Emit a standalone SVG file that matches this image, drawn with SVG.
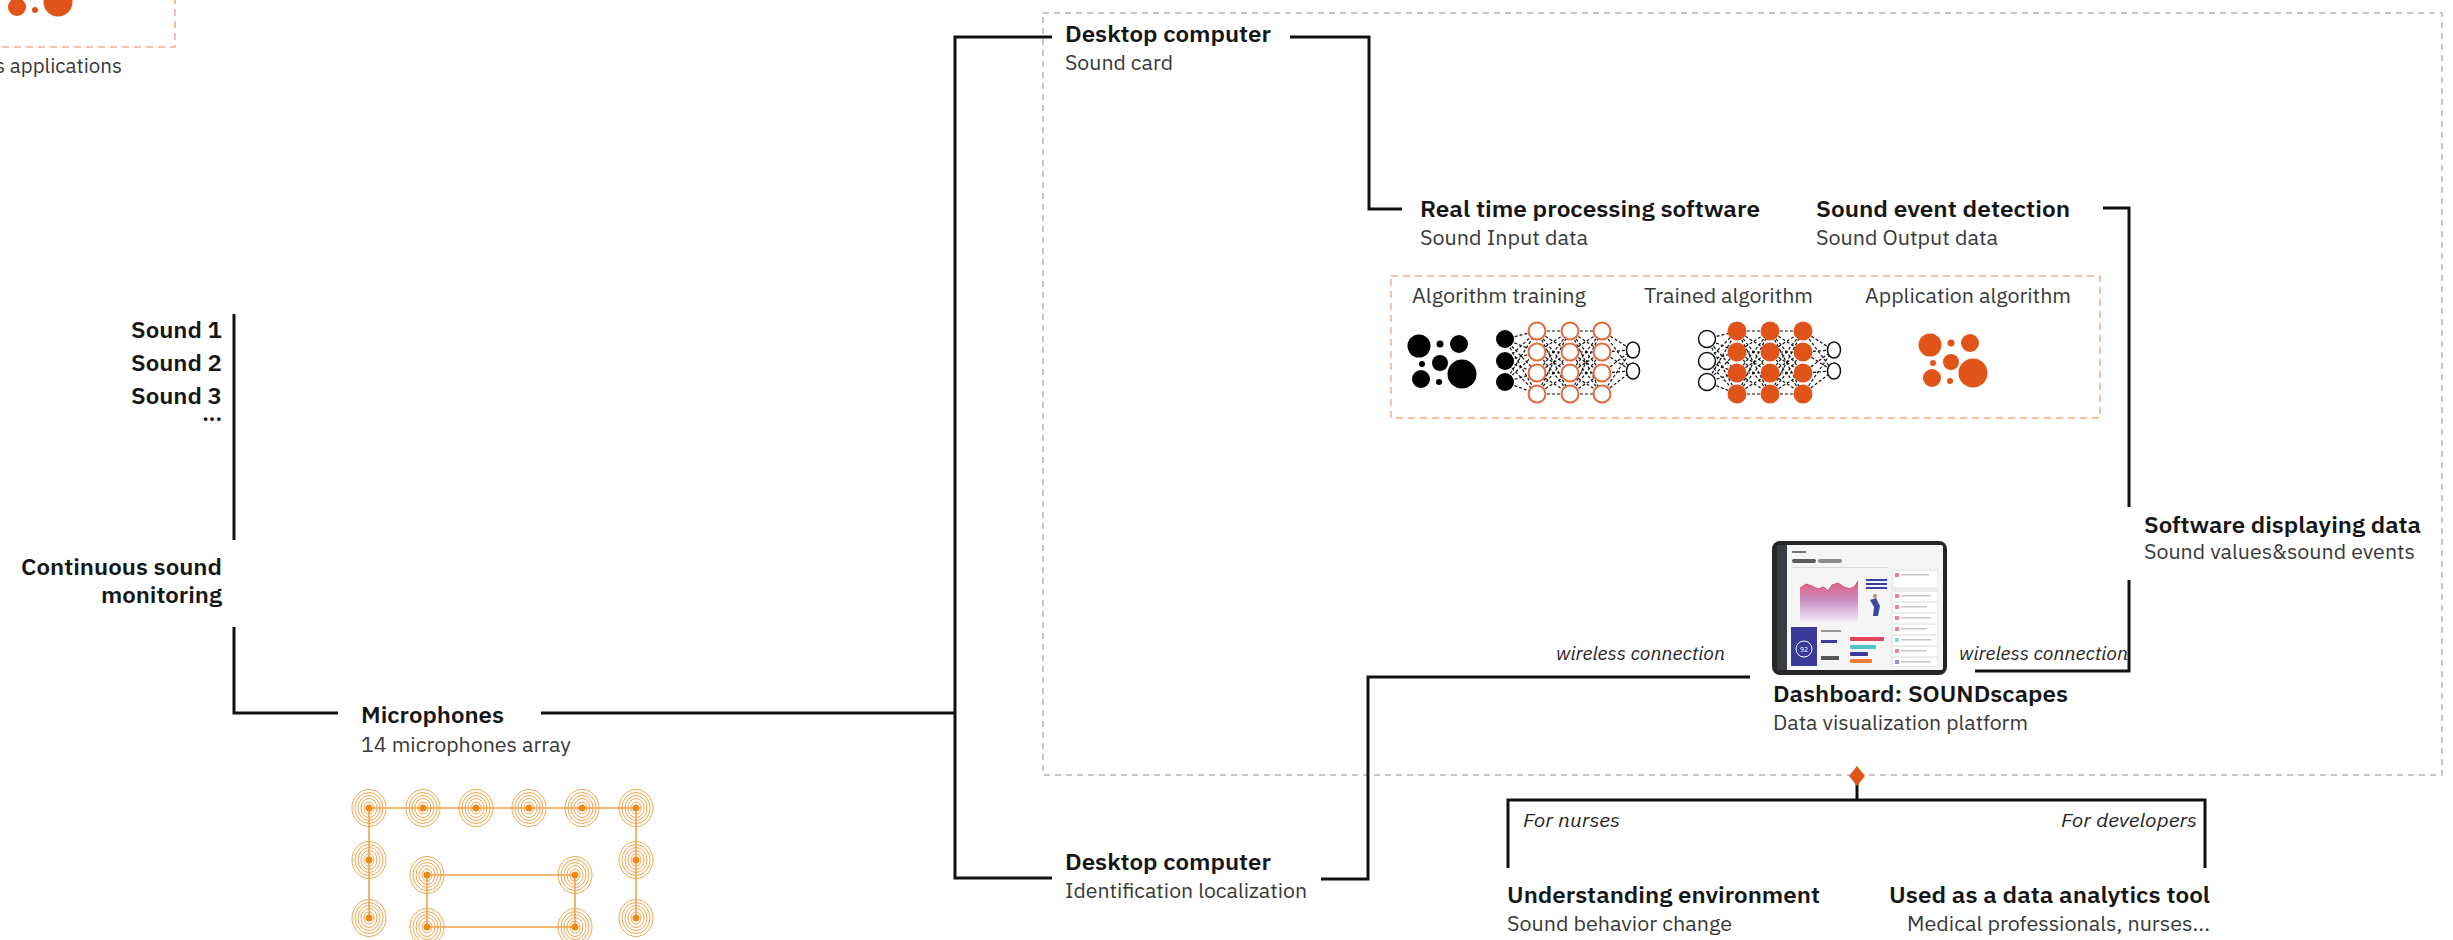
<svg xmlns="http://www.w3.org/2000/svg" width="2453" height="940" viewBox="0 0 2453 940">
  <style>
    .t { font-family: "IBM Plex Sans", "Noto Sans", sans-serif; font-weight: 600; font-size: 22px; fill: #161616; }
    .s { font-family: "IBM Plex Sans", "Noto Sans", sans-serif; font-weight: 400; font-size: 20px; fill: #393939; }
    .i { font-family: "IBM Plex Sans", "Noto Sans", sans-serif; font-style: italic; font-size: 18px; fill: #262626; }
    .e { text-anchor: end; }
    .wire { fill: none; stroke: #111; stroke-width: 3; }
    .frame { fill: none; stroke: #b4b4b4; stroke-width: 1.5; stroke-dasharray: 6 5; }
    .oframe { fill: none; stroke: #f6a98c; stroke-width: 1.5; stroke-dasharray: 7 5; }
    .link { stroke: #111; stroke-width: 1.2; stroke-dasharray: 3 2; }
    .ring { fill: none; stroke: #f2a449; stroke-width: 1; }
    .arr { stroke: #f2a449; stroke-width: 1.6; fill: none; }
  </style>
  <defs>
    <!-- dot cluster used for data / applications icons -->
    <g id="dots">
      <circle cx="0" cy="0" r="11.5"/>
      <circle cx="21" cy="-2" r="3.5"/>
      <circle cx="40" cy="-2" r="9"/>
      <circle cx="3" cy="18" r="3"/>
      <circle cx="21" cy="17" r="8"/>
      <circle cx="20" cy="36" r="3"/>
      <circle cx="2" cy="33" r="9"/>
      <circle cx="43" cy="28" r="14.5"/>
    </g>
    <!-- single microphone: concentric rings with a centre dot -->
    <g id="mic">
      <ellipse class="ring" rx="17" ry="18.5"/>
      <ellipse class="ring" rx="14" ry="15.5"/>
      <ellipse class="ring" rx="11" ry="12.5"/>
      <ellipse class="ring" rx="8" ry="9.5"/>
      <ellipse class="ring" rx="5" ry="6"/>
      <circle r="3.5" fill="#ee8a12"/>
    </g>
    <linearGradient id="area" x1="0" y1="0" x2="0" y2="1">
      <stop offset="0" stop-color="#e0607c"/>
      <stop offset="0.45" stop-color="#c98bc0"/>
      <stop offset="1" stop-color="#f1ecf8"/>
    </linearGradient>
  </defs>

  <rect width="2453" height="940" fill="#ffffff"/>

  <!-- applications panel (top-left, partly outside the canvas) -->
  <g id="applications">
    <rect class="oframe" x="-100" y="-100" width="275" height="147"/>
    <use href="#dots" x="15" y="-26" fill="#e0541a"/>
    <text class="s e" x="122" y="73" textLength="127" lengthAdjust="spacingAndGlyphs">s applications</text>
  </g>

  <!-- outer system frame -->
  <rect id="system-frame" class="frame" x="1043" y="13" width="1399" height="762"/>

  <!-- connectors -->
  <g id="connectors">
    <path class="wire" d="M234 314 V540"/>
    <path class="wire" d="M234 627 V713 H338"/>
    <path class="wire" d="M541 713 H955"/>
    <path class="wire" d="M1052 37 H955 V878 H1052"/>
    <path class="wire" d="M1290 37 H1369 V209 H1402"/>
    <path class="wire" d="M2103 208 H2129 V507"/>
    <path class="wire" d="M2129 580 V671 H1975"/>
    <path class="wire" d="M1750 677 H1368 V879 H1321"/>
    <path class="wire" d="M1857 776 V800"/>
    <path class="wire" d="M1508 868 V800 H2205 V868"/>
    <path d="M1857 766 L1865 776 L1857 786 L1849 776 Z" fill="#e0541a"/>
    <text class="i e" x="1725" y="660" textLength="169" lengthAdjust="spacingAndGlyphs">wireless connection</text>
    <text class="i e" x="2128" y="660" textLength="169" lengthAdjust="spacingAndGlyphs">wireless connection</text>
    <text class="i" x="1523" y="827" textLength="97" lengthAdjust="spacingAndGlyphs">For nurses</text>
    <text class="i e" x="2197" y="827" textLength="136" lengthAdjust="spacingAndGlyphs">For developers</text>
  </g>

  <!-- sound sources -->
  <g id="sounds">
    <text class="t e" x="222" y="338" textLength="91" lengthAdjust="spacingAndGlyphs">Sound 1</text>
    <text class="t e" x="222" y="371" textLength="91" lengthAdjust="spacingAndGlyphs">Sound 2</text>
    <text class="t e" x="222" y="404" textLength="91" lengthAdjust="spacingAndGlyphs">Sound 3</text>
    <text class="t e" x="222" y="421" font-size="18">...</text>
  </g>

  <g id="monitoring">
    <text class="t e" x="222" y="575" textLength="201" lengthAdjust="spacingAndGlyphs">Continuous sound</text>
    <text class="t e" x="222" y="603" textLength="121" lengthAdjust="spacingAndGlyphs">monitoring</text>
  </g>

  <!-- microphone array -->
  <g id="microphones">
    <text class="t" x="361" y="723" textLength="143" lengthAdjust="spacingAndGlyphs">Microphones</text>
    <text class="s" x="361" y="752" textLength="210" lengthAdjust="spacingAndGlyphs">14 microphones array</text>
    <path class="arr" d="M369 918 V808 H636 V918"/>
    <path class="arr" d="M427 875 H575 V927 H427 Z"/>
    <use href="#mic" x="369" y="808"/>
    <use href="#mic" x="423" y="808"/>
    <use href="#mic" x="476" y="808"/>
    <use href="#mic" x="529" y="808"/>
    <use href="#mic" x="582" y="808"/>
    <use href="#mic" x="636" y="808"/>
    <use href="#mic" x="369" y="860"/>
    <use href="#mic" x="636" y="860"/>
    <use href="#mic" x="369" y="918"/>
    <use href="#mic" x="636" y="918"/>
    <use href="#mic" x="427" y="875"/>
    <use href="#mic" x="575" y="875"/>
    <use href="#mic" x="427" y="927"/>
    <use href="#mic" x="575" y="927"/>
  </g>

  <g id="desktop-soundcard">
    <text class="t" x="1065" y="42" textLength="206" lengthAdjust="spacingAndGlyphs">Desktop computer</text>
    <text class="s" x="1065" y="70" textLength="108" lengthAdjust="spacingAndGlyphs">Sound card</text>
  </g>

  <g id="desktop-localization">
    <text class="t" x="1065" y="870" textLength="206" lengthAdjust="spacingAndGlyphs">Desktop computer</text>
    <text class="s" x="1065" y="898" textLength="242" lengthAdjust="spacingAndGlyphs">Identification localization</text>
  </g>

  <g id="processing">
    <text class="t" x="1420" y="217" textLength="340" lengthAdjust="spacingAndGlyphs">Real time processing software</text>
    <text class="s" x="1420" y="245" textLength="168" lengthAdjust="spacingAndGlyphs">Sound Input data</text>
  </g>

  <g id="event-detection">
    <text class="t" x="1816" y="217" textLength="254" lengthAdjust="spacingAndGlyphs">Sound event detection</text>
    <text class="s" x="1816" y="245" textLength="182" lengthAdjust="spacingAndGlyphs">Sound Output data</text>
  </g>

  <!-- algorithm panel -->
  <g id="algorithms">
    <rect class="oframe" x="1391" y="276" width="709" height="142"/>
    <text class="s" x="1412" y="303" textLength="174" lengthAdjust="spacingAndGlyphs">Algorithm training</text>
    <text class="s" x="1644" y="303" textLength="169" lengthAdjust="spacingAndGlyphs">Trained algorithm</text>
    <text class="s" x="1865" y="303" textLength="206" lengthAdjust="spacingAndGlyphs">Application algorithm</text>

    <use href="#dots" x="1419" y="346" fill="#000"/>

    <!-- network being trained -->
    <g id="net-training">
      <g class="link">
        <path d="M1505 339 L1537 331 M1505 339 L1537 352 M1505 339 L1537 373 M1505 339 L1537 394 M1505 361 L1537 331 M1505 361 L1537 352 M1505 361 L1537 373 M1505 361 L1537 394 M1505 382 L1537 331 M1505 382 L1537 352 M1505 382 L1537 373 M1505 382 L1537 394"/>
        <path d="M1537 331 L1570 331 M1537 331 L1570 352 M1537 331 L1570 373 M1537 331 L1570 394 M1537 352 L1570 331 M1537 352 L1570 352 M1537 352 L1570 373 M1537 352 L1570 394 M1537 373 L1570 331 M1537 373 L1570 352 M1537 373 L1570 373 M1537 373 L1570 394 M1537 394 L1570 331 M1537 394 L1570 352 M1537 394 L1570 373 M1537 394 L1570 394"/>
        <path d="M1570 331 L1602 331 M1570 331 L1602 352 M1570 331 L1602 373 M1570 331 L1602 394 M1570 352 L1602 331 M1570 352 L1602 352 M1570 352 L1602 373 M1570 352 L1602 394 M1570 373 L1602 331 M1570 373 L1602 352 M1570 373 L1602 373 M1570 373 L1602 394 M1570 394 L1602 331 M1570 394 L1602 352 M1570 394 L1602 373 M1570 394 L1602 394"/>
        <path d="M1602 331 L1632 350 M1602 331 L1632 371 M1602 352 L1632 350 M1602 352 L1632 371 M1602 373 L1632 350 M1602 373 L1632 371 M1602 394 L1632 350 M1602 394 L1632 371"/>
      </g>
      <g fill="#000">
        <circle cx="1505" cy="339" r="9"/>
        <circle cx="1505" cy="361" r="9"/>
        <circle cx="1505" cy="382" r="9"/>
      </g>
      <g fill="#fff" stroke="#e8683a" stroke-width="2">
        <circle cx="1537" cy="331" r="8.5"/><circle cx="1537" cy="352" r="8.5"/><circle cx="1537" cy="373" r="8.5"/><circle cx="1537" cy="394" r="8.5"/>
        <circle cx="1570" cy="331" r="8.5"/><circle cx="1570" cy="352" r="8.5"/><circle cx="1570" cy="373" r="8.5"/><circle cx="1570" cy="394" r="8.5"/>
        <circle cx="1602" cy="331" r="8.5"/><circle cx="1602" cy="352" r="8.5"/><circle cx="1602" cy="373" r="8.5"/><circle cx="1602" cy="394" r="8.5"/>
      </g>
      <g fill="#fff" stroke="#111" stroke-width="1.5">
        <ellipse cx="1633" cy="350" rx="6.5" ry="8"/>
        <ellipse cx="1633" cy="371" rx="6.5" ry="8"/>
      </g>
    </g>

    <!-- trained network -->
    <g id="net-trained">
      <g class="link">
        <path d="M1707 339 L1737 331 M1707 339 L1737 352 M1707 339 L1737 373 M1707 339 L1737 394 M1707 361 L1737 331 M1707 361 L1737 352 M1707 361 L1737 373 M1707 361 L1737 394 M1707 382 L1737 331 M1707 382 L1737 352 M1707 382 L1737 373 M1707 382 L1737 394"/>
        <path d="M1737 331 L1770 331 M1737 331 L1770 352 M1737 331 L1770 373 M1737 331 L1770 394 M1737 352 L1770 331 M1737 352 L1770 352 M1737 352 L1770 373 M1737 352 L1770 394 M1737 373 L1770 331 M1737 373 L1770 352 M1737 373 L1770 373 M1737 373 L1770 394 M1737 394 L1770 331 M1737 394 L1770 352 M1737 394 L1770 373 M1737 394 L1770 394"/>
        <path d="M1770 331 L1803 331 M1770 331 L1803 352 M1770 331 L1803 373 M1770 331 L1803 394 M1770 352 L1803 331 M1770 352 L1803 352 M1770 352 L1803 373 M1770 352 L1803 394 M1770 373 L1803 331 M1770 373 L1803 352 M1770 373 L1803 373 M1770 373 L1803 394 M1770 394 L1803 331 M1770 394 L1803 352 M1770 394 L1803 373 M1770 394 L1803 394"/>
        <path d="M1803 331 L1833 350 M1803 331 L1833 371 M1803 352 L1833 350 M1803 352 L1833 371 M1803 373 L1833 350 M1803 373 L1833 371 M1803 394 L1833 350 M1803 394 L1833 371"/>
      </g>
      <g fill="#fff" stroke="#111" stroke-width="1.5">
        <circle cx="1707" cy="339" r="8.5"/>
        <circle cx="1707" cy="361" r="8.5"/>
        <circle cx="1707" cy="382" r="8.5"/>
        <ellipse cx="1834" cy="350" rx="6.5" ry="8"/>
        <ellipse cx="1834" cy="371" rx="6.5" ry="8"/>
      </g>
      <g fill="#e0541a">
        <circle cx="1737" cy="331" r="9.5"/><circle cx="1737" cy="352" r="9.5"/><circle cx="1737" cy="373" r="9.5"/><circle cx="1737" cy="394" r="9.5"/>
        <circle cx="1770" cy="331" r="9.5"/><circle cx="1770" cy="352" r="9.5"/><circle cx="1770" cy="373" r="9.5"/><circle cx="1770" cy="394" r="9.5"/>
        <circle cx="1803" cy="331" r="9.5"/><circle cx="1803" cy="352" r="9.5"/><circle cx="1803" cy="373" r="9.5"/><circle cx="1803" cy="394" r="9.5"/>
      </g>
    </g>

    <use href="#dots" x="1930" y="345" fill="#e0541a"/>
  </g>

  <g id="software-display">
    <text class="t" x="2144" y="533" textLength="277" lengthAdjust="spacingAndGlyphs">Software displaying data</text>
    <text class="s" x="2144" y="559" textLength="271" lengthAdjust="spacingAndGlyphs">Sound values&amp;sound events</text>
  </g>

  <!-- dashboard tablet -->
  <g id="dashboard">
    <rect x="1772" y="541" width="175" height="134" rx="8" fill="#262626"/>
    <rect x="1777" y="545" width="166" height="125" rx="2" fill="#f5f5f6"/>
    <rect x="1777" y="545" width="10" height="125" fill="#3a3c44"/>
    <rect x="1792" y="551" width="14" height="2" fill="#777"/>
    <rect x="1792" y="559" width="24" height="4" rx="2" fill="#5a5a5a"/>
    <rect x="1818" y="559" width="24" height="4" rx="2" fill="#8a8a8a"/>
    <rect x="1792" y="567" width="96" height="1" fill="#d8d8d8"/>
    <rect x="1891" y="569" width="47" height="98" fill="#ececef"/>
    <!-- area chart -->
    <path d="M1800 622 V588 L1806 584 L1812 586 L1818 589 L1824 587 L1828 591 L1832 585 L1838 583 L1844 587 L1850 589 L1855 586 L1858 581 V622 Z" fill="url(#area)"/>
    <path d="M1800 588 L1806 584 L1812 586 L1818 589 L1824 587 L1828 591 L1832 585 L1838 583 L1844 587 L1850 589 L1855 586 L1858 581" fill="none" stroke="#d94f75" stroke-width="1"/>
    <rect x="1866" y="579" width="21" height="2" fill="#3b3fa0"/>
    <rect x="1866" y="583" width="21" height="2" fill="#3b3fa0"/>
    <rect x="1866" y="587" width="21" height="2" fill="#3b3fa0"/>
    <path d="M1870 600 L1876 598 L1880 606 L1878 616 L1873 616 L1874 607 Z" fill="#3b4a9a"/>
    <circle cx="1875" cy="596" r="2" fill="#c98a6a"/>
    <!-- notification list -->
    <g fill="#ffffff">
      <rect x="1893" y="571" width="44" height="16"/>
      <rect x="1893" y="592" width="44" height="9"/>
      <rect x="1893" y="603" width="44" height="9"/>
      <rect x="1893" y="614" width="44" height="9"/>
      <rect x="1893" y="625" width="44" height="9"/>
      <rect x="1893" y="636" width="44" height="9"/>
      <rect x="1893" y="647" width="44" height="9"/>
      <rect x="1893" y="658" width="44" height="8"/>
    </g>
    <g fill="#f08095">
      <rect x="1895" y="573" width="4" height="4"/>
      <rect x="1895" y="594" width="4" height="4"/>
      <rect x="1895" y="605" width="4" height="4"/>
      <rect x="1895" y="616" width="4" height="4"/>
      <rect x="1895" y="627" width="4" height="4"/>
      <rect x="1895" y="649" width="4" height="4"/>
    </g>
    <rect x="1895" y="638" width="4" height="4" fill="#8fd4dc"/>
    <rect x="1895" y="660" width="4" height="4" fill="#9a8fd8"/>
    <g fill="#c7c7cc">
      <rect x="1901" y="574" width="28" height="1.5"/>
      <rect x="1901" y="595" width="30" height="1.5"/>
      <rect x="1901" y="606" width="26" height="1.5"/>
      <rect x="1901" y="617" width="30" height="1.5"/>
      <rect x="1901" y="628" width="26" height="1.5"/>
      <rect x="1901" y="639" width="30" height="1.5"/>
      <rect x="1901" y="650" width="26" height="1.5"/>
      <rect x="1901" y="661" width="30" height="1.5"/>
    </g>
    <!-- score tile -->
    <rect x="1791" y="627" width="26" height="39" fill="#3a3a9a"/>
    <circle cx="1804" cy="649" r="8" fill="none" stroke="#ffffff" stroke-width="1"/>
    <text x="1804" y="652" font-family="Noto Sans, sans-serif" font-size="7" fill="#ffffff" text-anchor="middle">92</text>
    <rect x="1821" y="630" width="20" height="2" fill="#999"/>
    <rect x="1821" y="640" width="16" height="3" fill="#3a3a9a"/>
    <rect x="1821" y="656" width="18" height="4" fill="#555"/>
    <rect x="1850" y="637" width="34" height="4" rx="1" fill="#e2445e"/>
    <rect x="1850" y="645" width="26" height="4" rx="1" fill="#4cc4c8"/>
    <rect x="1850" y="652" width="18" height="4" rx="1" fill="#3a3a9a"/>
    <rect x="1850" y="659" width="22" height="4" rx="1" fill="#f07a3a"/>
    <text class="t" x="1773" y="702" textLength="295" lengthAdjust="spacingAndGlyphs">Dashboard: SOUNDscapes</text>
    <text class="s" x="1773" y="730" textLength="255" lengthAdjust="spacingAndGlyphs">Data visualization platform</text>
  </g>

  <g id="understanding">
    <text class="t" x="1507" y="903" textLength="313" lengthAdjust="spacingAndGlyphs">Understanding environment</text>
    <text class="s" x="1507" y="931" textLength="225" lengthAdjust="spacingAndGlyphs">Sound behavior change</text>
  </g>

  <g id="analytics">
    <text class="t e" x="2210" y="903" textLength="321" lengthAdjust="spacingAndGlyphs">Used as a data analytics tool</text>
    <text class="s e" x="2210" y="931" textLength="303" lengthAdjust="spacingAndGlyphs">Medical professionals, nurses...</text>
  </g>
</svg>
